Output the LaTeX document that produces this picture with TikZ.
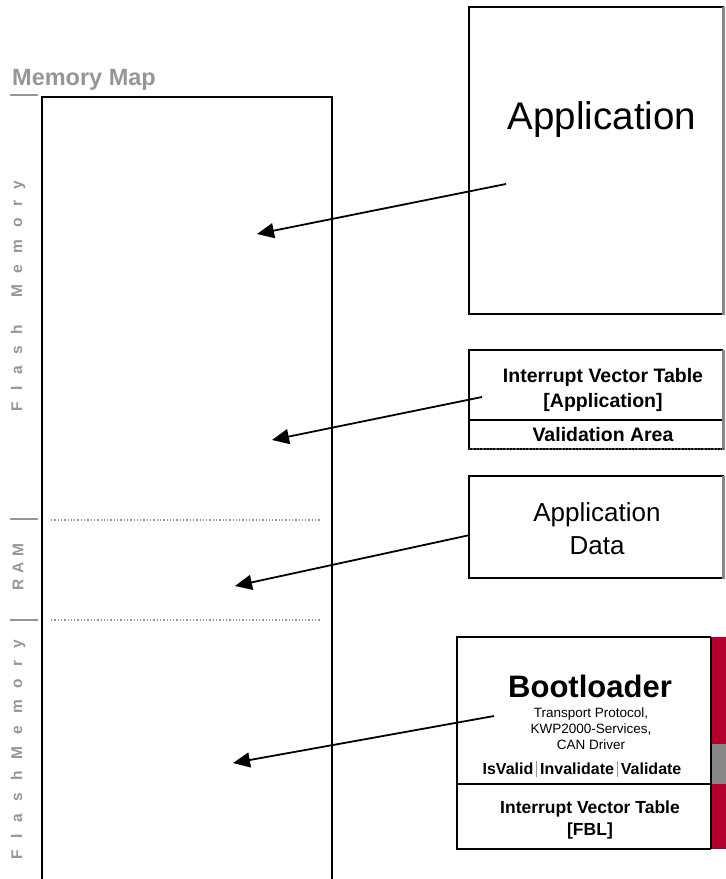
\documentclass[tikz,border=0pt]{standalone}
\usepackage{fontspec}
\setmainfont{Liberation Sans}
\usetikzlibrary{arrows.meta}
\definecolor{lbl}{RGB}{150,150,150}
\definecolor{edgegray}{RGB}{135,135,135}
\definecolor{fblred}{RGB}{180,0,45}
\newcommand\gA{\kern 11.5pt}
\newcommand\gB{\kern 12pt}
\newcommand\gC{\kern 6pt}
\newcommand\vsep{\hspace{3pt}{\color{lbl}\rule[-3pt]{0.9pt}{16pt}}\hspace{3pt}}
\tikzset{
  box/.style={draw=black,line width=1.2pt},
  rightedge/.style={draw=edgegray,line width=2.4pt},
  ptr/.style={line width=1.8pt,-{Triangle[length=17pt,width=15pt]}},
  sidelbl/.style={rotate=90,text=lbl,inner sep=0pt,font=\bfseries\fontsize{15.5}{15}\selectfont},
  tick/.style={draw=lbl,line width=1.8pt},
  sep/.style={draw=lbl,line width=1.3pt,dotted},
  txt/.style={inner sep=0pt,anchor=base}
}
\begin{document}
\begin{tikzpicture}[x=1pt,y=-1pt]
\useasboundingbox (0,0) rectangle (726,879);
% title
\node[txt,anchor=base west,text=lbl,font=\bfseries\fontsize{23.5}{27}\selectfont] (title) at (12,85) {Memory Map};
\draw[tick] (10,95) -- (38,95);
% memory map column
\draw[line width=1.5pt] (42,892) -- (42,97) -- (332,97) -- (332,892);
\draw[sep] (51,520) -- (321,520);
\draw[sep] (51,620) -- (321,620);
\draw[tick] (10,519) -- (38,519);
\draw[tick] (10,620) -- (38,620);
% side labels
\node[sidelbl] (lflash1) at (18,296) {F\gA l\gA a\gA s\gA h\gA\ \gA M\gA e\gA m\gA o\gA r\gA y};
\node[sidelbl] (lram) at (18,567) {R\gC A\gC M};
\node[sidelbl] (lflash2) at (18,750) {F\gB l\gB a\gB s\gB h\gB M\gB e\gB m\gB o\gB r\gB y};
% Application box
\path[box] (469,7) rectangle (723,314);
\draw[rightedge] (723.5,7) -- (723.5,315);
\node[txt,font=\fontsize{38.5}{44}\selectfont] (app) at (602,129) {Application};
% IVT application
\draw[box] (723,449) -- (469,449) -- (469,350) -- (723,350);
\draw[box] (469,420) -- (723,420);
\draw[rightedge] (723.5,350) -- (723.5,450);
\draw[draw=black!70,line width=1.3pt,dotted] (469,449) -- (724,449);
\node[txt,font=\bfseries\fontsize{19.5}{22}\selectfont] (ivt1) at (603,382) {Interrupt Vector Table};
\node[txt,font=\bfseries\fontsize{19.5}{22}\selectfont] (ivt2) at (603,407) {[Application]};
\node[txt,font=\bfseries\fontsize{19.5}{22}\selectfont] (val) at (603,441) {Validation Area};
% Application data
\path[box] (469,476) rectangle (723,578);
\draw[rightedge] (723.5,476) -- (723.5,579);
\node[txt,font=\fontsize{26}{30}\selectfont] (ad1) at (597,521) {Application};
\node[txt,font=\fontsize{26}{30}\selectfont] (ad2) at (597,554) {Data};
% Bootloader box
\fill[fblred] (711,637) rectangle (726,849);
\fill[edgegray] (711,744) rectangle (726,784);
\draw[box] (711,637) -- (457,637) -- (457,849) -- (711,849);
\draw[box] (457,784) -- (711,784);
\draw[line width=1.2pt] (711,637) -- (711,849);
\node[txt,font=\bfseries\fontsize{31}{36}\selectfont] (bl) at (590,697) {Bootloader};
\node[txt,font=\fontsize{13.5}{16}\selectfont] (bl1) at (591,717) {Transport Protocol,};
\node[txt,font=\fontsize{13.5}{16}\selectfont] (bl2) at (591,733) {KWP2000-Services,};
\node[txt,font=\fontsize{13.5}{16}\selectfont] (bl3) at (591,749) {CAN Driver};
\node[txt,font=\bfseries\fontsize{16}{18}\selectfont] (bl4) at (582,774) {IsValid\vsep Invalidate\vsep Validate};
\node[txt,font=\bfseries\fontsize{17.5}{20}\selectfont] (fbl1) at (590,813) {Interrupt Vector Table};
\node[txt,font=\bfseries\fontsize{17.5}{20}\selectfont] (fbl2) at (590,835) {[FBL]};
% arrows
\coordinate (s1) at (506,184); \coordinate (t1) at (257,234);
\coordinate (s2) at (482,397); \coordinate (t2) at (272,440);
\coordinate (s3) at (470,535); \coordinate (t3) at (235,586);
\coordinate (s4) at (494,716); \coordinate (t4) at (233,763);
\draw[ptr] (s1) -- (t1);
\draw[ptr] (s2) -- (t2);
\draw[ptr] (s3) -- (t3);
\draw[ptr] (s4) -- (t4);
\end{tikzpicture}
\end{document}
